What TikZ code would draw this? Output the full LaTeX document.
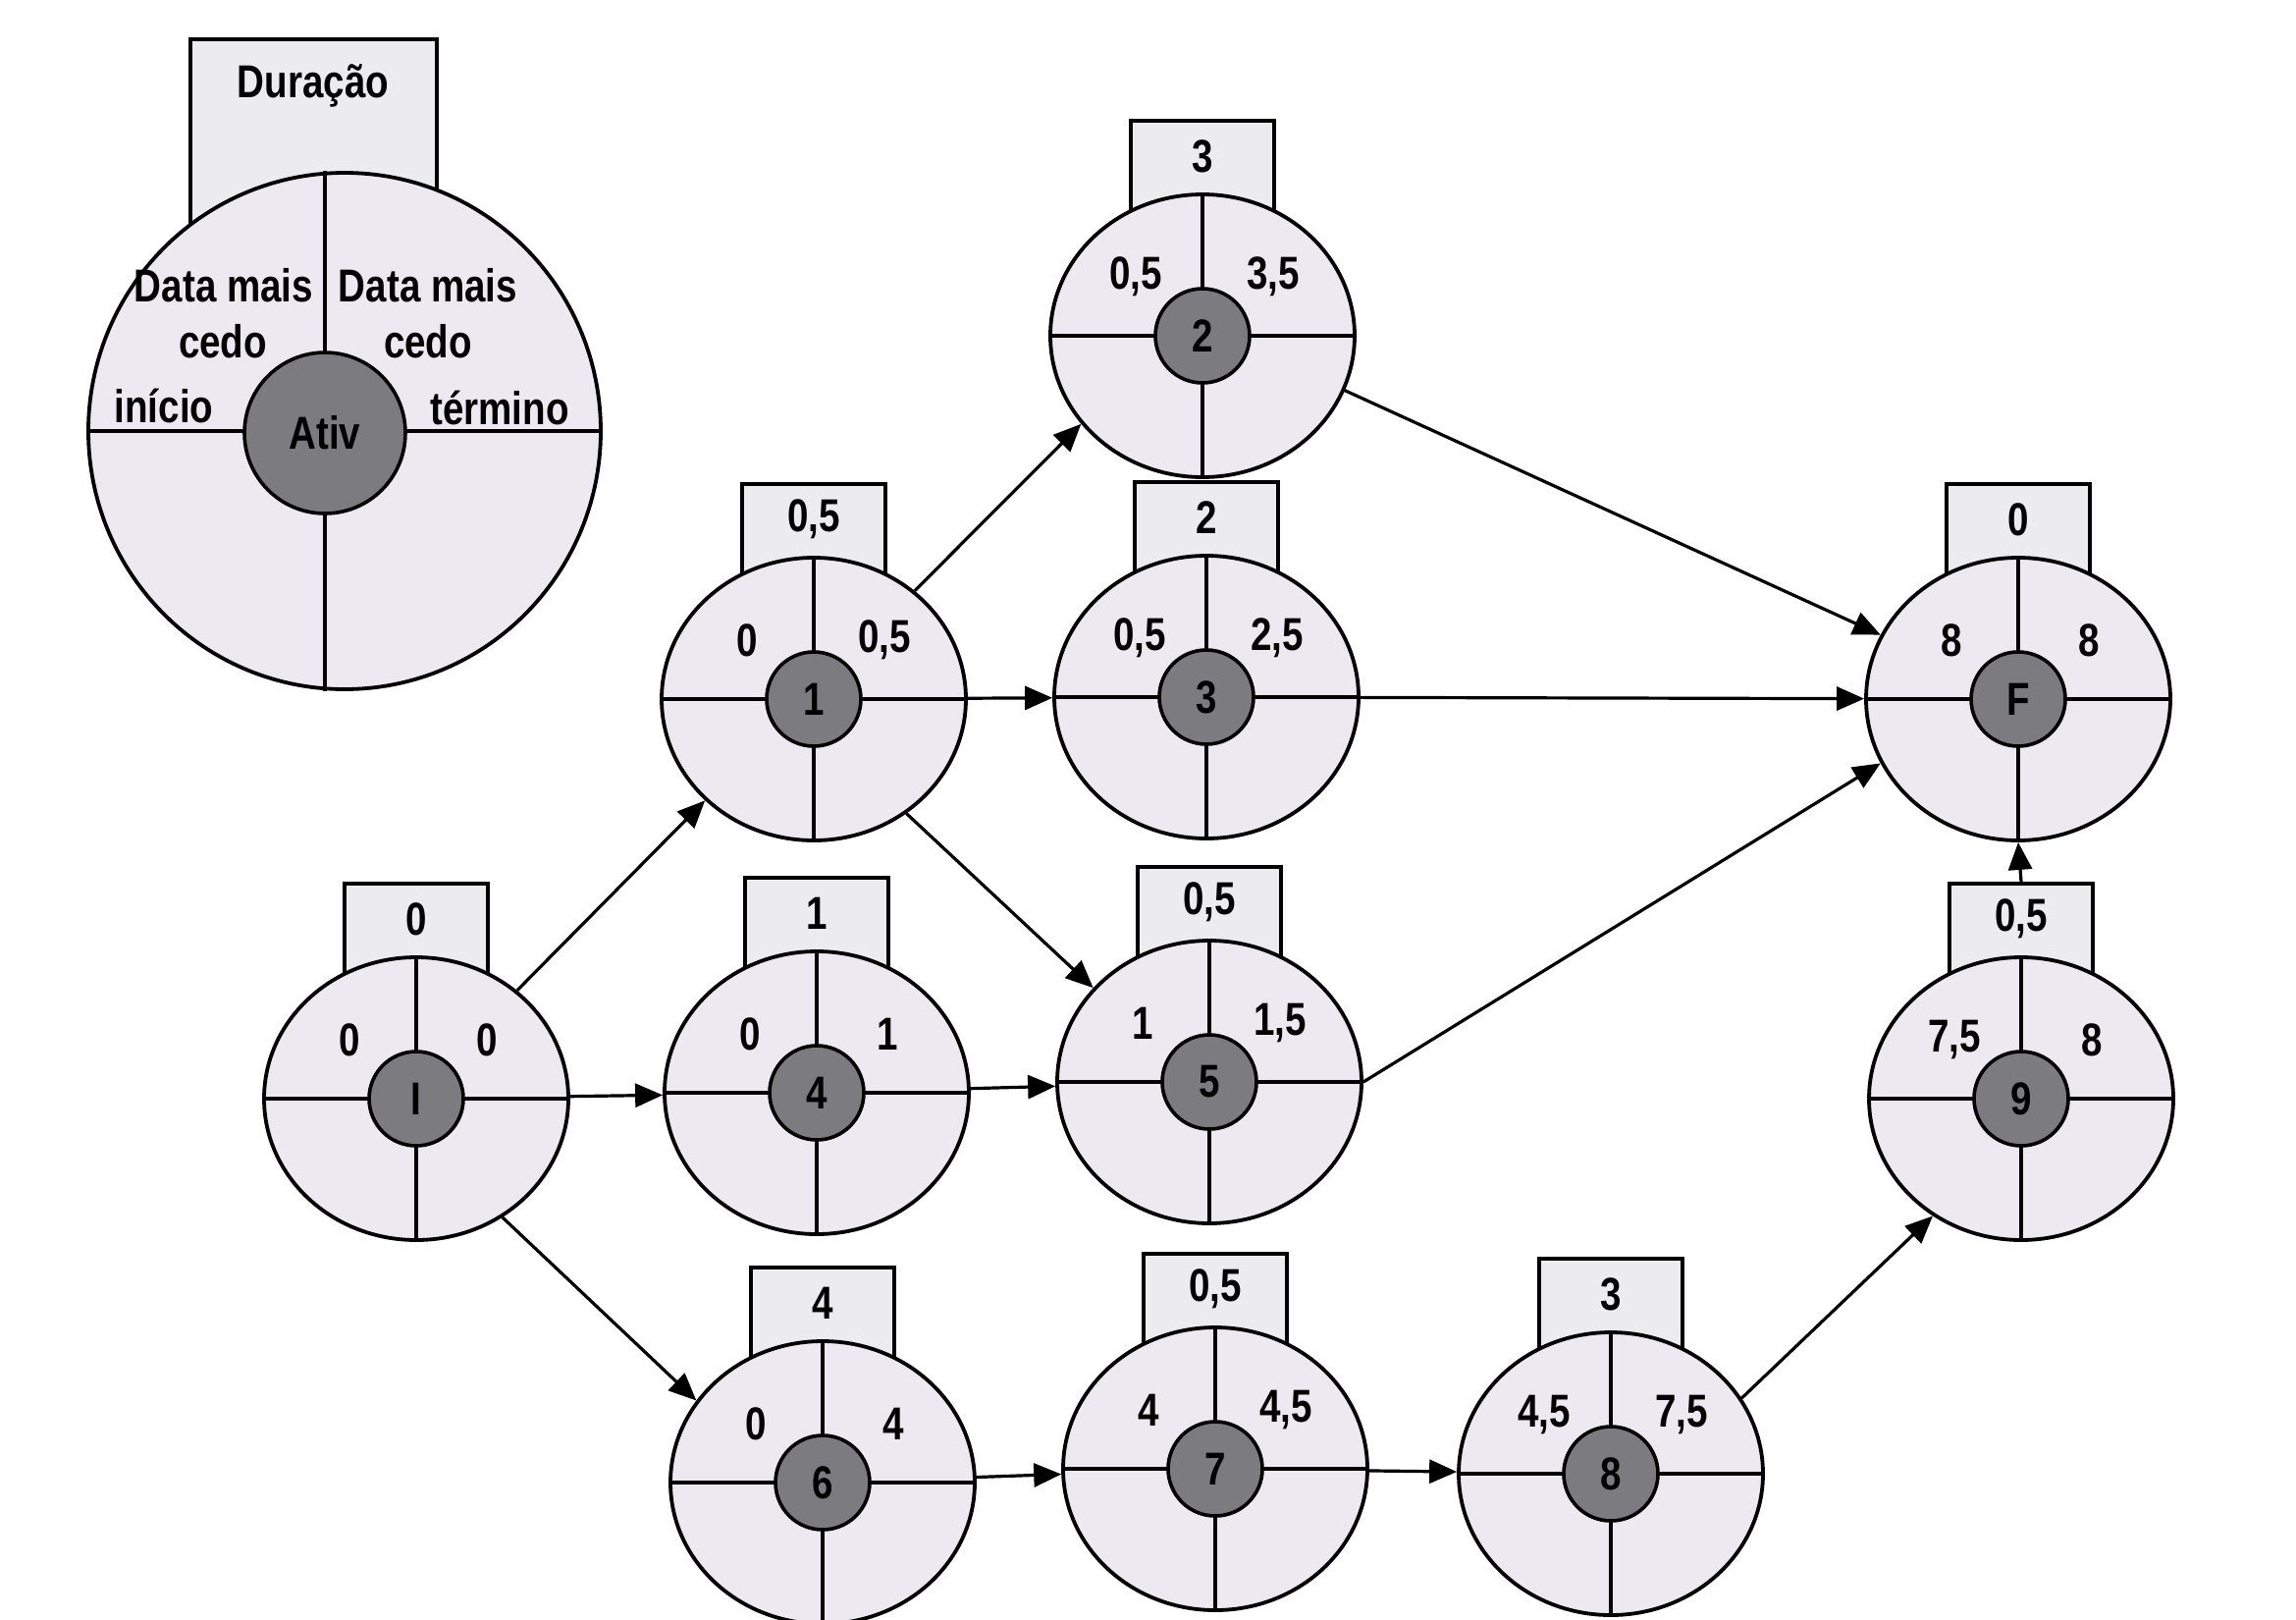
\documentclass[tikz,border=0pt]{standalone}
\usepackage{fontspec}
\setmainfont{Liberation Sans}[FakeStretch=0.82]
\usetikzlibrary{shapes.geometric,arrows.meta}
\definecolor{outerfill}{RGB}{236,234,240}
\definecolor{innerfill}{RGB}{124,123,127}
\definecolor{boxfill}{RGB}{236,235,238}
\newcommand\numfont{\fontsize{23.5}{25}\selectfont\bfseries}
\tikzset{
 outer/.style={ellipse,draw,line width=1.9pt,fill=outerfill,inner sep=0pt,minimum width=155pt,minimum height=144pt},
 inner/.style={circle,draw,line width=1.8pt,fill=innerfill,inner sep=0pt,minimum size=48pt,font=\numfont},
 durbox/.style={rectangle,draw,line width=1.8pt,fill=boxfill,minimum width=73pt,minimum height=60pt},
 divline/.style={line width=1.6pt},
 num/.style={inner sep=0pt,font=\numfont},
 arr/.style={line width=1.6pt,-{Triangle[length=14pt,width=12pt]}},
}
\newcommand\actnode[7]{%
 \node[durbox] (#1-d) at (#2,#3-159) {};
 \node[num] (#1-t) at (#2,#3-183) {#4};
 \node[outer] (#1) at (#2,#3) {};
 \draw[divline] (#1.north) -- (#1.south) (#1.west) -- (#1.east);
 \node[inner] (#1-c) at (#2,#3) {#7};
 \node[num] (#1-es) at ([shift={(-68,-60)}]#1.center) {#5};
 \node[num] (#1-ef) at ([shift={(72,-60)}]#1.center) {#6};
}
\begin{document}
\begin{tikzpicture}[x=0.5pt,y=-0.5pt]
\useasboundingbox[fill=white] (0,0) rectangle (2339,1649);
% legend
\node[durbox,minimum width=125.5pt,minimum height=100pt] (lg-d) at (319.5,140) {};
\node[num] (lg-t) at (319,87) {Duração};
\node[outer,minimum width=261pt,minimum height=263pt] (lg) at (351,439) {};
\draw[divline] ([xshift=-10pt]lg.north) -- ([xshift=-10pt]lg.south) (lg.west) -- (lg.east);
\node[inner,minimum size=82pt] (lg-c) at (331,441) {Ativ};
\node[num] (lg-a) at (228,291) {Data mais};
\node[num] (lg-b) at (227,348) {cedo};
\node[num] (lg-c1) at (167,413) {início};
\node[num] (lg-e) at (436,291) {Data mais};
\node[num] (lg-f) at (436,348) {cedo};
\node[num] (lg-g) at (509,415) {término};
% activities
\actnode{I}{424}{1119}{0}{0}{0}{I}
\actnode{n1}{829}{712}{0,5}{0}{0,5}{1}
\actnode{n2}{1225}{342}{3}{0,5}{3,5}{2}
\actnode{n3}{1229}{710}{2}{0,5}{2,5}{3}
\actnode{n4}{832}{1113}{1}{0}{1}{4}
\actnode{n5}{1232}{1102}{0,5}{1}{1,5}{5}
\actnode{n6}{838}{1510}{4}{0}{4}{6}
\actnode{n7}{1238}{1496}{0,5}{4}{4,5}{7}
\actnode{n8}{1641}{1501}{3}{4,5}{7,5}{8}
\actnode{n9}{2059}{1119}{0,5}{7,5}{8}{9}
\actnode{F}{2056}{712}{0}{8}{8}{F}
% connectors
\draw[arr] (I.47) -- (n1.223);
\draw[arr] (I) -- (n4);
\draw[arr] (I.-54) -- (n6.147);
\draw[arr] (n1.47) -- (n2.216);
\draw[arr] (n1) -- (n3);
\draw[arr] (n1.-51) -- (n5.141);
\draw[arr] (n4) -- (n5);
\draw[arr] (n2.-21) -- (F.155);
\draw[arr] (n3) -- (F);
\draw[arr] (n5.0) -- (F.205);
\draw[arr] (n9-d.north) -- (F.south);
\draw[arr] (n6) -- (n7);
\draw[arr] (n7) -- (n8);
\draw[arr] (n8.30) -- (n9.233);
\end{tikzpicture}
\end{document}
